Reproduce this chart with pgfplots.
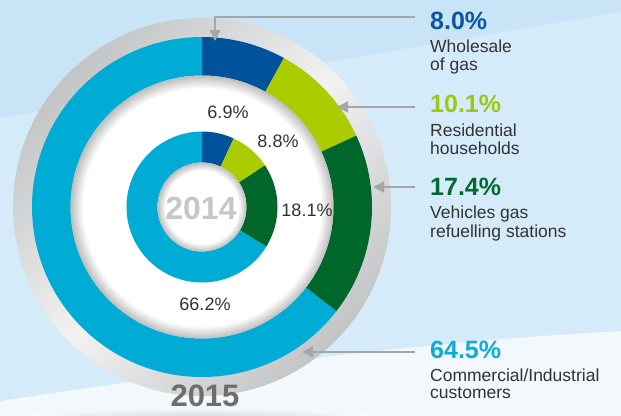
\documentclass[border=0pt]{standalone}
\usepackage{pgfplots}
\pgfplotsset{compat=1.18}
\usepackage{pgfplotstable}
\usetikzlibrary{arrows.meta}
\usepackage{fontspec}
\setmainfont{Liberation Sans}

\definecolor{cWhole}{HTML}{00529A}
\definecolor{cResid}{HTML}{AACC00}
\definecolor{cVeh}{HTML}{006629}
\definecolor{cComm}{HTML}{00ACD6}
\definecolor{lWhole}{HTML}{0A56A0}
\definecolor{lResid}{HTML}{9CC814}
\definecolor{lVeh}{HTML}{006B30}
\definecolor{lComm}{HTML}{0AACD8}
\definecolor{bgA}{HTML}{C9E4F6}
\definecolor{bgB}{HTML}{D5EBF9}
\definecolor{bgC}{HTML}{F2F8FC}
\definecolor{arrowgray}{HTML}{A6A6A6}
\definecolor{txt}{HTML}{333333}
\definecolor{ringdark}{HTML}{C3C4C6}
\definecolor{ringlight}{HTML}{F2F2F2}
\definecolor{shadowc}{HTML}{BDBDBD}

\pgfdeclareverticalshading{ringsh}{100bp}{color(0bp)=(ringdark); color(25bp)=(ringdark); color(50bp)=(ringlight); color(75bp)=(ringdark); color(100bp)=(ringdark)}
\pgfdeclareradialshading{bigwhite}{\pgfpointorigin}{color(0bp)=(white); color(22.6bp)=(white); color(25bp)=(shadowc); color(50bp)=(shadowc)}
\pgfdeclareradialshading{smallwhite}{\pgfpointorigin}{color(0bp)=(white); color(20.5bp)=(white); color(25bp)=(shadowc); color(50bp)=(shadowc)}

% 2015 shares (outer ring)
\pgfplotstableread{
share colour
8.0 cWhole
10.1 cResid
17.4 cVeh
64.5 cComm
}\sharesOuter
% 2014 shares (inner ring)
\pgfplotstableread{
share colour
6.9 cWhole
8.8 cResid
18.1 cVeh
66.2 cComm
}\sharesInner

% #1 table, #2 cx, #3 cy, #4 outer radius, #5 inner radius
\newcommand\donut[5]{%
  \def\astart{90}%
  \pgfplotsforeachungrouped \i in {0,...,3}{%
    \pgfplotstablegetelem{\i}{share}\of#1\let\v\pgfplotsretval
    \pgfplotstablegetelem{\i}{colour}\of#1\let\c\pgfplotsretval
    \pgfmathsetmacro\aend{\astart-3.6*\v}%
    \edef\temp{\noexpand\fill[\c] ([shift={(axis cs:#2,#3)}]\astart:#4pt) arc[start angle=\astart, end angle=\aend, radius=#4pt] -- ([shift={(axis cs:#2,#3)}]\aend:#5pt) arc[start angle=\aend, end angle=\astart, radius=#5pt] -- cycle;}%
    \temp
    \global\let\astart\aend
  }%
}

\begin{document}
\begin{tikzpicture}
\begin{axis}[
  x=1pt, y=1pt, xmin=0, xmax=621, ymin=0, ymax=415,
  y dir=reverse, hide axis, clip=false,
]
% background
\fill[bgA] (axis cs:0,0) rectangle (axis cs:621,415);
\fill[bgB] (axis cs:0,118) -- (axis cs:621,12) -- (axis cs:621,330) -- (axis cs:0,400) -- cycle;
\fill[bgC] (axis cs:0,415) -- (axis cs:0,401) .. controls (axis cs:220,368) and (axis cs:420,342) .. (axis cs:621,331) -- (axis cs:621,415) -- cycle;
\begin{scope}
\clip (axis cs:0,0) rectangle (axis cs:621,415);
\shade[inner color=gray!45, outer color=bgC] (axis cs:200,424) ellipse [x radius=190pt, y radius=16pt];
\end{scope}
\coordinate (bl) at (axis cs:0,415);
\coordinate (tr) at (axis cs:621,0);

% grey frame ring
\shade[shading=ringsh, shading angle=45] (axis cs:202,207) circle[radius=189pt];

% 2015 ring
\donut{\sharesOuter}{202}{207}{170}{131.5}
\shade[shading=bigwhite] (axis cs:202,207) circle[radius=131.5pt];
% 2014 ring
\donut{\sharesInner}{202}{207}{75.5}{44.5}
\shade[shading=smallwhite] (axis cs:202,207) circle[radius=44.5pt];

% year labels
\node[font=\fontsize{32}{36}\selectfont\bfseries, text=black!22, inner sep=0pt] at (axis cs:201,208) {2014};
\node[font=\fontsize{31}{34}\selectfont\bfseries, text=black!57, inner sep=0pt] at (axis cs:205,396) {2015};

% 2014 values
\node[font=\fontsize{18}{20}\selectfont, text=txt] at (axis cs:228,112) {6.9\%};
\node[font=\fontsize{18}{20}\selectfont, text=txt] at (axis cs:278,141) {8.8\%};
\node[font=\fontsize{18}{20}\selectfont, text=txt] at (axis cs:307,210) {18.1\%};
\node[font=\fontsize{18}{20}\selectfont, text=txt] at (axis cs:205,304) {66.2\%};

% arrows
\draw[arrowgray, line width=1.4pt, -{Triangle[length=11pt, width=11pt]}] (axis cs:415,17) -- (axis cs:215,17) -- (axis cs:215,41);
\draw[arrowgray, line width=1.4pt, -{Triangle[length=11pt, width=11pt]}] (axis cs:415,107) -- (axis cs:337,107);
\draw[arrowgray, line width=1.4pt, -{Triangle[length=11pt, width=11pt]}] (axis cs:415,187) -- (axis cs:373,187);
\draw[arrowgray, line width=1.4pt, -{Triangle[length=11pt, width=11pt]}] (axis cs:415,352) -- (axis cs:302,352);

% right-hand labels
\tikzset{pct/.style={anchor=base west, inner sep=0pt, font=\fontsize{25}{28}\selectfont\bfseries},
         lbl/.style={anchor=base west, inner sep=0pt, text=txt, font=\fontsize{17.5}{19}\selectfont}}
\node[pct, text=lWhole] at (axis cs:430,29) {8.0\%};
\node[lbl] at (axis cs:430,52) {Wholesale};
\node[lbl] at (axis cs:430,70) {of gas};
\node[pct, text=lResid] at (axis cs:430,112) {10.1\%};
\node[lbl] at (axis cs:430,136) {Residential};
\node[lbl] at (axis cs:430,154) {households};
\node[pct, text=lVeh] at (axis cs:430,195) {17.4\%};
\node[lbl] at (axis cs:430,218) {Vehicles gas};
\node[lbl] at (axis cs:430,237) {refuelling stations};
\node[pct, text=lComm] at (axis cs:430,358) {64.5\%};
\node[lbl] at (axis cs:430,381) {Commercial/Industrial};
\node[lbl] at (axis cs:430,398) {customers};
\end{axis}
\pgfresetboundingbox
\useasboundingbox (bl) rectangle (tr);
\end{tikzpicture}
\end{document}
